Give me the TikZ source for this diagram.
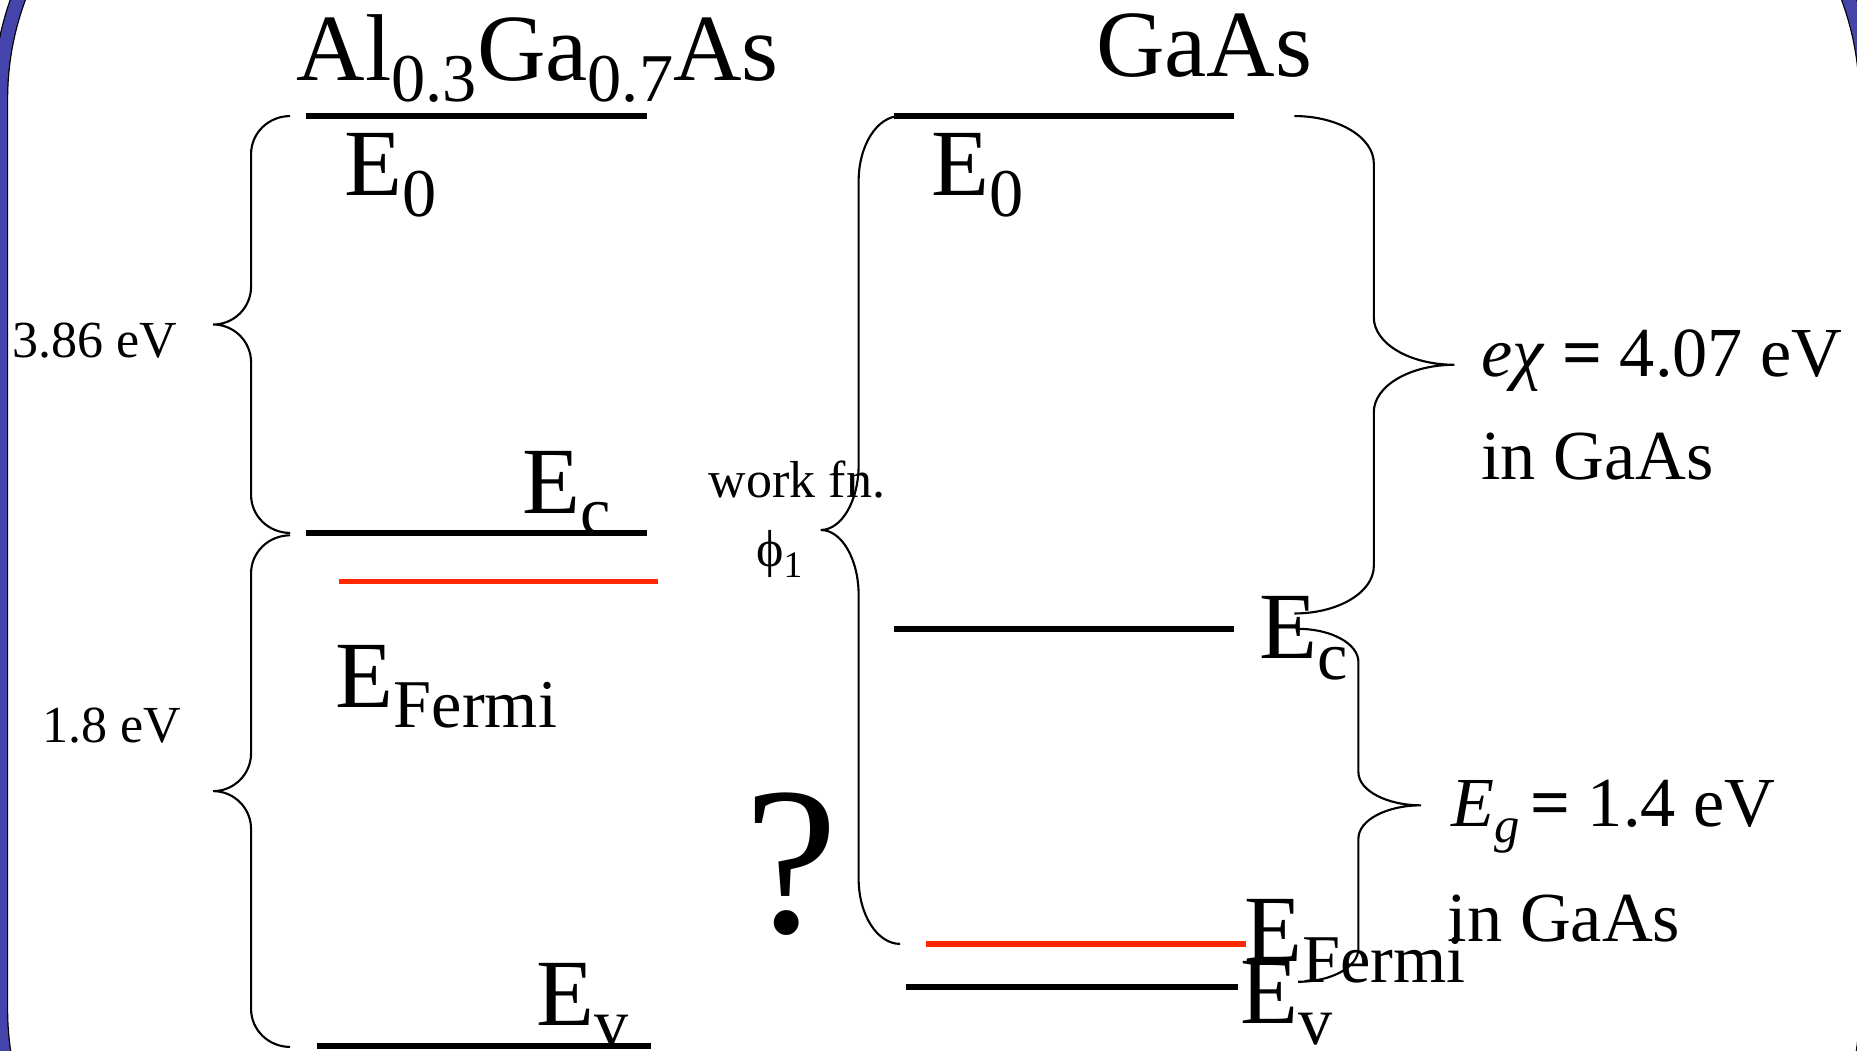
\documentclass[tikz,border=0pt]{standalone}
\usepackage{fontspec}
\setmainfont{Liberation Serif}
\definecolor{framebl}{RGB}{68,68,170}
\definecolor{fermired}{RGB}{255,40,0}
% lowered, smaller text for subscripts
\newcommand{\lo}[1]{\raisebox{-0.22em}{\scalebox{0.72}{#1}}}
% curly brace: ends at x=#1, back at x=#2, tip at x=#3, from y=#4 to y=#5, bend #6
\newcommand{\gapbrace}[6]{%
  \pgfmathsetmacro{\bracemid}{(#4+#5)/2}%
  \draw[brace] (#1,#4) .. controls (#1+0.552*#2-0.552*#1,#4) and (#2,#4+0.448*#6) .. (#2,#4+#6)
    -- (#2,\bracemid-#6)
    .. controls (#2,\bracemid-0.448*#6) and (#2+0.448*#3-0.448*#2,\bracemid) .. (#3,\bracemid)
    .. controls (#2+0.448*#3-0.448*#2,\bracemid) and (#2,\bracemid+0.448*#6) .. (#2,\bracemid+#6)
    -- (#2,#5-#6)
    .. controls (#2,#5-0.448*#6) and (#1+0.552*#2-0.552*#1,#5) .. (#1,#5);}

\begin{document}
\begin{tikzpicture}[
    x=0.0118431cm, y=-0.0118431cm,
    level/.style={line width=1.7pt},
    fermi/.style={line width=1.7pt, draw=fermired},
    brace/.style={line width=0.6pt},
    lbl/.style={anchor=base west, inner sep=0pt, font=\fontsize{27}{27}\selectfont},
    small/.style={anchor=base west, inner sep=0pt, font=\fontsize{14.8}{15}\selectfont},
    note/.style={anchor=base west, inner sep=0pt, font=\fontsize{20}{20}\selectfont}
  ]
    \useasboundingbox (0,0) rectangle (1568,887);
    \clip (0,0) rectangle (1568,887);
    % slide frame
    \draw[line width=4.4pt, rounded corners=2.93cm] (0.4,-163.5) rectangle (1576,1099.5);
    \draw[line width=3.7pt, framebl, rounded corners=2.93cm] (0.4,-163.5) rectangle (1576,1099.5);

    % Al0.3Ga0.7As side
    \node[lbl] (alt) at (250,68) {Al\lo{0.3}Ga\lo{0.7}As};
    \draw[level] (258,98) -- (546,98);
    \draw[level] (258,450) -- (546,450);
    \draw[fermi] (286,491) -- (556,491);
    \draw[level] (268,883) -- (550,883);
    \node[lbl] (ale0) at (290,165) {E\lo{0}};
    \node[lbl] (alec) at (441,434) {E\lo{c}};
    \node[lbl] (alef) at (283,597) {E\lo{Fermi}};
    \node[lbl] (alev) at (452,866) {E\lo{v}};
    \gapbrace{245}{212}{180}{98}{450}{32}
    \gapbrace{245}{212}{180}{452}{884}{32}
    \node[small] (chia) at (10,302) {3.86 eV};
    \node[small] (gapa) at (35,627) {1.8 eV};

    % middle
    \gapbrace{760}{725}{693}{98}{797}{55}
    \node[small] (wf) at (598,420) {work fn.};
    \node[small] (phi) at (638,478) {ϕ\lo{1}};
    \node[anchor=base west, inner sep=0pt, font=\fontsize{60}{60}\selectfont] (qm) at (628,787) {?};

    % GaAs side
    \node[lbl] (gat) at (925,65) {GaAs};
    \draw[level] (755,98) -- (1042,98);
    \draw[level] (755,531) -- (1042,531);
    \draw[fermi] (782,797) -- (1052,797);
    \draw[level] (765,833) -- (1045,833);
    \node[lbl] (gae0) at (786,165) {E\lo{0}};
    \node[lbl] (gaec) at (1063,556) {E\lo{c}};
    \node[lbl] (gaef) at (1050,812) {E\lo{Fermi}};
    \node[lbl] (gaev) at (1047,864) {E\lo{v}};
    \gapbrace{1093}{1160}{1228}{98}{518}{40}
    \gapbrace{1096}{1147}{1200}{531}{829}{28}
    \node[note] (chib) at (1250,318) {\textit{eχ} \textbf{=} 4.07 eV};
    \node[note] (inb) at (1250,405) {in GaAs};
    \node[note] (gapb) at (1225,698) {\textit{E}\lo{\textit{g}}\hspace{0.15em}\textbf{=} 1.4 eV};
    \node[note] (inc) at (1222,795) {in GaAs};
\end{tikzpicture}
\end{document}
